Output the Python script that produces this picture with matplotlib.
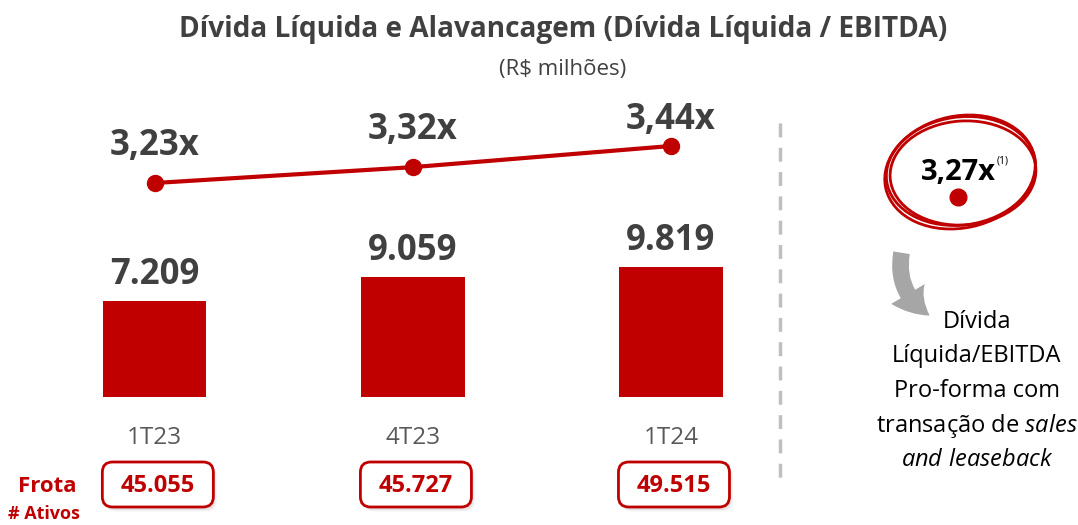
import numpy as np
import matplotlib.pyplot as plt
from matplotlib.patches import FancyBboxPatch, Ellipse, FancyArrowPatch
import matplotlib.transforms as mtransforms

# data
periods = ['1T23', '4T23', '1T24']
net_debt = [7209, 9059, 9819]
leverage = [3.23, 3.32, 3.44]
fleet = [45055, 45727, 49515]
proforma = 3.27

RED = '#C00000'
DARK = '#404040'

plt.rcParams['font.family'] = ['Open Sans', 'DejaVu Sans']
plt.rcParams['mathtext.fontset'] = 'custom'
plt.rcParams['mathtext.rm'] = 'Open Sans'
plt.rcParams['mathtext.it'] = 'Open Sans:italic'

W, H = 1078, 525
fig = plt.figure(figsize=(W / 100, H / 100), dpi=100)


def fy(py):
    return 1 - py / H


def br(v):
    return f'{v:,}'.replace(',', '.')


x = np.arange(len(periods))

# bars (baseline at 397px, top of axes at 100px)
ax = fig.add_axes([0, fy(397), 825.8 / W, (397 - 100) / H])
ax.bar(x, net_debt, width=0.4, color=RED)
ax.set_xlim(-0.6, 2.6)
ax.set_ylim(0, 297 / 0.01327)
ax.axis('off')
for xi, v in zip(x, net_debt):
    ax.annotate(br(v), (xi, v), xytext=(0, 17), textcoords='offset pixels',
                ha='center', va='baseline', fontsize=25, fontweight='bold', color=DARK)

# leverage line
ax2 = ax.twinx()
ax2.set_ylim(2.0155, 3.701)
ax2.plot(x, leverage, color=RED, lw=3, marker='o', ms=11.5, solid_capstyle='round')
ax2.axis('off')
lab_off = [28, 28, 17]
for xi, v, off in zip(x, leverage, lab_off):
    ax2.annotate(f'{v:.2f}'.replace('.', ',') + 'x', (xi, v), xytext=(0, off),
                 textcoords='offset pixels', ha='center', va='baseline',
                 fontsize=25, fontweight='bold', color=DARK)

# category labels and fleet boxes
trans = mtransforms.blended_transform_factory(ax.transData, fig.transFigure)
for xi, p in zip(x, periods):
    ax.text(xi, fy(438), p, transform=trans, ha='center', va='center',
            fontsize=17.5, color='#595959')

box_w = 111 / 258
for xi, f in zip(x, fleet):
    cx = xi + 3 / 258
    for k, a in enumerate([0.10, 0.07, 0.04]):
        sh = FancyBboxPatch((cx - box_w / 2 + (2 + k) / 258, fy(507) - (3 + k) / H), box_w, 45 / H,
                            boxstyle='round,pad=0,rounding_size=0.04', transform=trans,
                            fc='#808080', ec='none', alpha=a, clip_on=False, zorder=1,
                            mutation_aspect=258 / H)
        ax.add_patch(sh)
    bx = FancyBboxPatch((cx - box_w / 2, fy(507)), box_w, 45 / H,
                        boxstyle='round,pad=0,rounding_size=0.04', transform=trans,
                        fc='white', ec=RED, lw=2, clip_on=False, zorder=2,
                        mutation_aspect=258 / H)
    ax.add_patch(bx)
    ax.text(cx, fy(486), br(f), transform=trans, ha='center', va='center',
            fontsize=17, fontweight='bold', color=RED, zorder=5)

fig.text(47 / W, fy(487), 'Frota', ha='center', va='center', fontsize=16,
         fontweight='bold', color=RED)
fig.text(44 / W, fy(514), '# Ativos', ha='center', va='center', fontsize=13,
         fontweight='bold', color=RED)

# title
fig.text(563 / W, fy(30), 'Dívida Líquida e Alavancagem (Dívida Líquida / EBITDA)',
         ha='center', va='center', fontsize=20.2, fontweight='bold', color=DARK)
fig.text(563 / W, fy(70), '(R$ milhões)', ha='center', va='center', fontsize=16, color=DARK)

# dashed separator
fig.add_artist(plt.Line2D([780 / W, 780 / W], [fy(123), fy(478)], color='#BFBFBF',
                          lw=2.5, linestyle=(0, (4, 3))))

# pro-forma highlight
ov = fig.add_axes([0, 0, 1, 1])
ov.set_xlim(0, W)
ov.set_ylim(H, 0)
ov.axis('off')
for dx, dy, w, h, ang in [(0, 0, 150, 108, -8), (2, 2, 146, 104, -4), (-1, 1, 152, 112, -12)]:
    ov.add_patch(Ellipse((961 + dx, 171 + dy), w, h, angle=ang, fill=False,
                         ec=RED, lw=2.0))
ov.plot([958], [197], 'o', color=RED, ms=12)
ov.text(958, 172, f'{proforma:.2f}'.replace('.', ',') + 'x', ha='center', va='center',
        fontsize=21, fontweight='bold', color='black')
ov.text(997, 161, '(1)', ha='left', va='center', fontsize=7.5, color='black')

arr = FancyArrowPatch((902, 250), (932, 317), connectionstyle='arc3,rad=0.35',
                      arrowstyle='simple,head_width=1.4,head_length=1.1,tail_width=0.6',
                      mutation_scale=20, color='#A6A6A6', lw=0)
ov.add_patch(arr)

lines = ['Dívida', 'Líquida/EBITDA', 'Pro-forma com', r'transação de $\mathit{sales}$',
         r'$\mathit{and\ leaseback}$']
for i, t in enumerate(lines):
    ov.text(977, 322 + i * 34.5, t, ha='center', va='center', fontsize=17, color='black')

fig.savefig('out.png', dpi=100)
